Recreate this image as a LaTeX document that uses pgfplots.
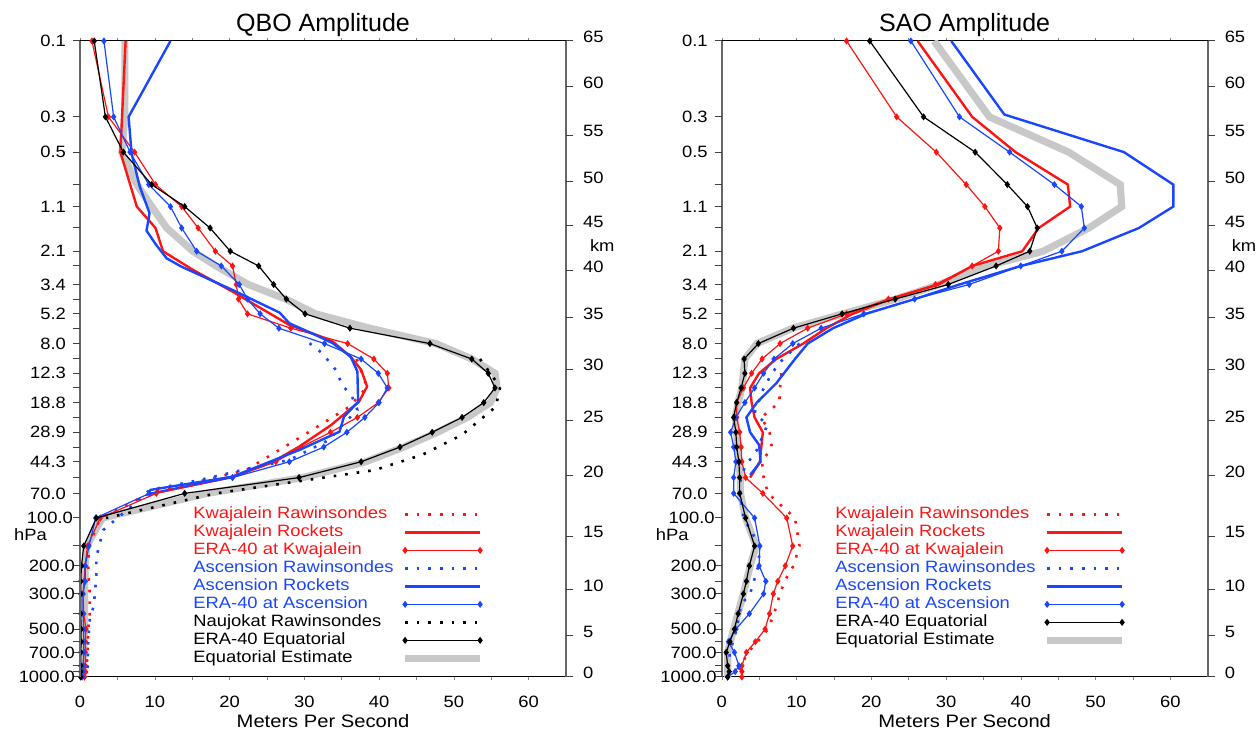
\documentclass[border=0pt]{standalone}
\usepackage{pgfplots}
\pgfplotsset{compat=1.18}
\usepackage{fontspec}
\setmainfont{Liberation Sans}
\newfontfamily\wf{Liberation Sans}[FakeStretch=1.12]
\newcommand\tf{\wf\fontsize{8.2}{9.5}\selectfont}
\newcommand\lf{\wf\fontsize{9}{10}\selectfont}
\newcommand\ttl{\fontsize{12.5}{14}\selectfont}
\definecolor{kred}{RGB}{255,20,20}
\definecolor{ablue}{RGB}{25,70,255}
\definecolor{estgray}{RGB}{200,200,200}

\tikzset{
  qraw/.style={line width=1.3pt, dash pattern=on 1.3pt off 4.5pt},
  qrock/.style={line width=1.2pt},
  qera/.style={line width=0.6pt, mark=diamond*, mark size=1.3pt, mark options={solid}},
  qest/.style={line width=3.6pt, color=estgray},
}

\begin{document}
\begin{tikzpicture}
\path[use as bounding box] (0,0) rectangle (630pt,365.5pt);

% ---------------- QBO panel ----------------
\begin{axis}[at={(40pt,27pt)}, anchor=south west,
  scale only axis, width=243pt, height=318pt,
  xmin=0, xmax=65, ymode=log, ymin=0.1, ymax=1000, y dir=reverse,
  tick align=outside, tick label style={font=\tf},
  xtick={0,10,20,30,40,50,60}, xticklabels={0,10,20,30,40,50,60},
  minor xtick={5,15,25,35,45,55}, xtick pos=both,
  major tick length=1.5pt, minor tick length=1.5pt,
  xticklabel style={yshift=-4.5pt},
  ytick=\empty, axis line style={line width=0.5pt},
  clip mode=individual,
  legend plot pos=right, legend cell align=left,
  legend image code/.code={\draw[#1] plot coordinates {(0pt,0pt) (37.5pt,0pt)};},
  legend style={at={(0.2325,0.2705)}, anchor=north west, draw=none, fill=none,
    inner sep=0pt, row sep=0pt, column sep=4pt, font=\tf,
    nodes={inner sep=0pt, text height=6.5pt, text depth=2.5pt}}]
\addplot[qest, mark=none, forget plot] coordinates {(6.0,0.1) (6.0,0.3) (5.6,0.5) (7.6,0.8) (9.6,1.1) (11.6,1.5) (15.1,2.1) (18.2,2.6) (22.5,3.4) (27.5,4.2) (31.5,5.2) (38.7,6.4) (47.6,8.0) (52.4,10) (55.5,12.3) (55.8,15.2) (54.9,18.8) (51.8,23.3) (47.8,28.9) (43.3,35.8) (38.2,44.3) (29.8,55.7) (17.0,70) (3.0,100) (0.9,150) (0.7,200) (0.6,300) (0.6,500) (0.5,700) (0.5,1000)};
\addplot[kred, qraw, mark=none] coordinates {(37.0,10) (38.4,15) (36.0,20) (30.0,30) (22.2,50) (9.3,70) (2.7,100) (1.2,150) (1.1,200) (1.2,250) (1.3,300) (1.3,400) (1.1,500) (1.0,700) (0.9,850) (0.9,1000)};
\addlegendentry{\textcolor{kred}{Kwajalein Rawinsondes}}
\addplot[kred, qrock, mark=none] coordinates {(6.1,0.1) (5.4,0.5) (7.6,1.1) (10.1,1.5) (11.1,2.1) (15.1,2.75) (20.4,3.77) (28.0,6.11) (32.0,7.16) (33.8,7.78) (36.2,9.67) (37.6,11.7) (38.4,14.9) (37.3,18.6) (36.0,20.9) (33.6,26.0) (29.3,35.6) (25.8,44.3) (20.4,55.0) (9.3,70.7)};
\addlegendentry{\textcolor{kred}{Kwajalein Rockets}}
\addplot[kred, qera] coordinates {(1.6,0.1) (3.8,0.3) (7.3,0.5) (10.1,0.8) (13.6,1.1) (15.8,1.5) (18.1,2.1) (20.4,2.6) (20.9,3.4) (21.2,4.2) (22.4,5.2) (28.2,6.4) (35.8,8.0) (39.3,10) (41.1,12.3) (41.3,15.2) (39.9,18.8) (37.1,23.3) (33.5,28.9) (29.6,35.8) (26.2,44.3) (20.4,55.7) (10.2,70) (2.7,100) (1.0,150) (0.67,200) (0.55,250) (0.4,300) (0.5,400) (0.8,500) (0.7,600) (0.7,700) (0.7,850) (0.7,925) (0.6,1000)};
\addlegendentry{\textcolor{kred}{ERA-40 at Kwajalein}}
\addplot[ablue, qraw, mark=none] coordinates {(30.7,7.96) (32.4,9.2) (34.2,11.7) (35.1,14.6) (36.4,17.3) (37.1,20.9) (35.1,26.0) (33.3,32.3) (31.1,36.4) (28.0,43.2) (22.7,48.7) (16.0,57.7) (9.3,66.7) (7.1,82.8) (3.1,119) (2.2,175) (2.2,222) (2.0,300) (1.8,361) (1.3,438) (1.1,600) (1.0,1000)};
\addlegendentry{\textcolor{ablue}{Ascension Rawinsondes}}
\addplot[ablue, qrock, mark=none] coordinates {(12.1,0.1) (6.5,0.3) (6.9,0.51) (8.0,0.825) (9.3,1.21) (8.9,1.56) (10.2,1.92) (11.6,2.33) (13.6,2.63) (20.4,3.68) (26.7,5.11) (28.0,5.96) (32.0,7.24) (33.8,7.96) (36.2,9.67) (37.1,12.0) (37.2,18.6) (35.3,23.1) (34.7,28.7) (29.3,37.4) (20.4,55) (9.3,66.7)};
\addlegendentry{\textcolor{ablue}{Ascension Rockets}}
\addplot[ablue, qera] coordinates {(3.2,0.1) (4.5,0.3) (6.7,0.5) (9.2,0.8) (12.1,1.1) (13.6,1.5) (15.6,2.1) (18.9,2.6) (21.3,3.4) (22.4,4.2) (24.1,5.2) (26.6,6.4) (32.7,8.0) (37.6,10) (39.9,12.3) (41.1,15.2) (40.0,18.8) (38.1,23.3) (35.7,28.9) (32.6,35.8) (28.0,44.3) (20.4,55.7) (9.3,70) (2.1,100) (1.2,150) (0.7,200) (0.7,250) (0.4,300) (0.4,400) (0.5,500) (0.5,600) (0.5,700) (0.4,850) (0.4,925) (0.3,1000)};
\addlegendentry{\textcolor{ablue}{ERA-40 at Ascension}}
\addplot[black, qraw, mark=none] coordinates {(53.5,10) (56.2,15) (55.6,20) (51.1,30) (45.8,40) (39.4,50) (18.2,70) (3.5,100)};
\addlegendentry{Naujokat Rawinsondes}
\addplot[black, qera] coordinates {(1.9,0.1) (3.4,0.3) (5.8,0.5) (9.6,0.8) (14.0,1.1) (17.4,1.5) (20.1,2.1) (23.9,2.6) (25.9,3.4) (27.6,4.2) (30.1,5.2) (36.1,6.4) (46.8,8.0) (52.4,10) (54.6,12.3) (55.5,15.2) (54.0,18.8) (51.1,23.3) (47.1,28.9) (42.8,35.8) (37.6,44.3) (29.3,55.7) (14.0,70) (2.2,100) (0.5,150) (0.2,200) (0.1,250) (0.1,300) (0.1,400) (0.15,500) (0.15,600) (0.1,700) (0.1,850) (0.1,925) (0.1,1000)};
\addlegendentry{ERA-40 Equatorial}
\addlegendimage{qest, mark=none}
\addlegendentry{Equatorial Estimate}
\draw[black!60, line width=0.9pt] (axis description cs:0,0) -- (axis description cs:0,1);
\draw[black!60, line width=0.9pt] (axis description cs:1,0) -- (axis description cs:1,1);
\node[font=\ttl, anchor=base] at (axis description cs:0.5,1) [yshift=4.6pt] {QBO Amplitude};
\node[font=\lf] at (axis description cs:0.5,0) [yshift=-22pt] {Meters Per Second};
\node[font=\tf] at (axis cs:0,128) [xshift=-24.75pt] {hPa};
\node[font=\tf, anchor=west] at (axis cs:65,1.94) [xshift=8.5pt] {km};
\end{axis}
% pressure ticks (left)
\begin{axis}[at={(40pt,27pt)}, anchor=south west,
  scale only axis, width=243pt, height=318pt,
  xmin=0, xmax=65, ymode=log, ymin=0.1, ymax=1000, y dir=reverse,
  tick align=outside, tick label style={font=\tf},
  axis line style={draw=none}, xtick=\empty,
  ytick={0.1,0.3,0.5,1.1,2.1,3.4,5.2,8,12.3,18.8,28.9,44.3,70,100,200,300,500,700,1000},
  yticklabels={0.1,0.3,0.5,1.1,2.1,3.4,5.2,8.0,12.3,18.8,28.9,44.3,70.0,{100.0\kern-3.5pt},{200.0\kern-4.5pt},{300.0\kern-4.5pt},{500.0\kern-4.5pt},{700.0\kern-4.5pt},{1000.0\kern-4.5pt}},
  minor ytick={0.8,1.5,2.6,4.2,6.4,10,15.2,23.3,35.8,55.7,150,250,400,600,850,925},
  ytick pos=left, major tick length=3.5pt, minor tick length=3.5pt,
  tick style={black!75, line width=0.5pt}]
\addplot[draw=none, forget plot] coordinates {(1,1)};
\end{axis}
% km ticks (right)
\begin{axis}[at={(40pt,27pt)}, anchor=south west,
  scale only axis, width=243pt, height=318pt,
  xmin=0, xmax=65, ymode=log, ymin=0.1, ymax=1000, y dir=reverse,
  tick align=outside, tick label style={font=\tf},
  axis line style={draw=none}, xtick=\empty,
  ytick={0.1,0.1947,0.3903,0.7705,1.457,2.796,5.523,11.56,24.54,54.43,129.8,283.6,552.3,1000},
  yticklabels={65,60,55,50,45,40,35,30,25,20,15,10,5,0},
  ytick pos=right, major tick length=3.5pt,
  yticklabel style={xshift=1.5pt, yshift=2pt},
  tick style={black!75, line width=0.5pt}]
\addplot[draw=none, forget plot] coordinates {(1,1)};
\end{axis}

% ---------------- SAO panel ----------------
\begin{axis}[at={(360.85pt,27pt)}, anchor=south west,
  scale only axis, width=243pt, height=318pt,
  xmin=0, xmax=65, ymode=log, ymin=0.1, ymax=1000, y dir=reverse,
  tick align=outside, tick label style={font=\tf},
  xtick={0,10,20,30,40,50,60}, xticklabels={0,10,20,30,40,50,60},
  minor xtick={5,15,25,35,45,55}, xtick pos=both,
  major tick length=1.5pt, minor tick length=1.5pt,
  xticklabel style={yshift=-4.5pt},
  ytick=\empty, axis line style={line width=0.5pt},
  clip mode=individual,
  legend plot pos=right, legend cell align=left,
  legend image code/.code={\draw[#1] plot coordinates {(0pt,0pt) (37.5pt,0pt)};},
  legend style={at={(0.2331,0.2705)}, anchor=north west, draw=none, fill=none,
    inner sep=0pt, row sep=0pt, column sep=4pt, font=\tf,
    nodes={inner sep=0pt, text height=6.5pt, text depth=2.5pt}}]
\addplot[qest, mark=none, forget plot] coordinates {(28.4,0.1) (35.8,0.3) (46.4,0.5) (53.3,0.8) (53.5,1.1) (49.1,1.5) (43.0,2.1) (35.5,2.6) (29.1,3.4) (23.3,4.2) (16.2,5.2) (9.5,6.4) (4.7,8.0) (3.1,10) (2.9,12.3) (2.7,15.2) (2.2,18.8) (1.8,23.3) (2.0,28.9) (2.1,35.8) (2.3,44.3) (2.5,55.7) (2.5,70) (3.2,100) (4.6,150) (3.8,200) (2.9,300) (1.6,500) (0.8,700) (0.8,1000)};
\addplot[kred, qraw, mark=none] coordinates {(8.0,12.3) (7.8,15.2) (7.7,18.8) (5.3,23.3) (6.4,28.9) (6.7,35.8) (5.4,44.3) (5.6,55.7) (6.2,70) (9.8,100) (10.4,150) (9.6,200) (8.4,250) (7.8,300) (7.0,400) (6.2,500) (4.8,600) (3.5,700) (2.6,850) (2.0,1000)};
\addlegendentry{\textcolor{kred}{Kwajalein Rawinsondes}}
\addplot[kred, qrock, mark=none] coordinates {(26.2,0.1) (33.5,0.3) (39.3,0.5) (46.3,0.8) (46.6,1.1) (42.4,1.5) (40.2,2.1) (33.5,2.6) (29.0,3.4) (22.5,4.2) (17.5,5.2) (14.0,6.4) (10.9,8.0) (7.3,10) (5.0,12.3) (3.8,15.2) (4.0,18.8) (4.4,23.3) (5.5,28.9) (5.3,35.8) (5.1,44.3) (3.8,55.7)};
\addlegendentry{\textcolor{kred}{Kwajalein Rockets}}
\addplot[kred, qera] coordinates {(16.7,0.1) (23.4,0.3) (28.7,0.5) (32.7,0.8) (35.2,1.1) (37.2,1.5) (37.0,2.1) (33.5,2.6) (28.6,3.4) (22.3,4.2) (16.7,5.2) (11.5,6.4) (7.8,8.0) (5.4,10) (4.0,12.3) (2.9,15.2) (2.0,18.8) (2.0,23.3) (2.4,28.9) (2.6,35.8) (2.7,44.3) (3.2,55.7) (5.5,70) (8.7,100) (9.5,150) (8.5,200) (7.5,250) (6.9,300) (6.4,400) (5.8,500) (4.5,600) (3.3,700) (2.7,850) (2.7,925) (2.7,1000)};
\addlegendentry{\textcolor{kred}{ERA-40 at Kwajalein}}
\addplot[ablue, qraw, mark=none] coordinates {(10.4,8.0) (8.2,10) (6.7,12.3) (5.5,15.7) (4.4,21.9) (6.1,26) (4.7,37.4) (3.1,47.6) (2.4,60.5) (2.5,70) (2.9,100) (5.1,150) (4.9,200) (3.8,300) (2.6,350) (2.0,500) (1.1,700) (0.9,850) (0.8,1000)};
\addlegendentry{\textcolor{ablue}{Ascension Rawinsondes}}
\addplot[ablue, qrock, mark=none] coordinates {(30.7,0.1) (37.8,0.29) (53.8,0.5) (60.4,0.8) (60.4,1.1) (55.8,1.5) (48.2,2.1) (40.0,2.6) (31.8,3.4) (25.8,4.2) (19.3,5.2) (14.9,6.4) (11.5,8.0) (9.8,10) (7.3,14.2) (4.7,18.8) (3.3,23.3) (3.8,28.9) (5.0,34.7) (5.2,44.3) (3.8,53.6)};
\addlegendentry{\textcolor{ablue}{Ascension Rockets}}
\addplot[ablue, qera] coordinates {(25.3,0.1) (31.8,0.3) (38.5,0.5) (44.5,0.8) (48.1,1.1) (48.5,1.5) (45.5,2.1) (40.0,2.6) (33.1,3.4) (25.8,4.2) (19.0,5.2) (13.3,6.4) (9.5,8.0) (7.0,10) (5.6,12.3) (4.4,15.2) (3.1,18.8) (1.9,23.3) (1.2,28.9) (1.6,35.8) (1.9,44.3) (1.6,55.7) (1.6,70) (4.4,100) (5.1,150) (5.0,200) (5.9,250) (5.6,300) (3.7,400) (1.9,500) (0.9,600) (1.7,700) (2.3,850) (1.8,925) (0.8,1000)};
\addlegendentry{\textcolor{ablue}{ERA-40 at Ascension}}
\addplot[black, qera] coordinates {(19.8,0.1) (27.0,0.3) (33.9,0.5) (38.2,0.8) (40.9,1.1) (42.2,1.5) (41.2,2.1) (36.7,2.6) (30.3,3.4) (23.2,4.2) (16.1,5.2) (9.6,6.4) (4.9,8.0) (3.0,10) (3.1,12.3) (2.6,15.2) (2.0,18.8) (1.6,23.3) (1.9,28.9) (2.0,35.8) (2.3,44.3) (2.4,55.7) (2.4,70) (3.2,100) (4.4,150) (3.7,200) (3.3,250) (2.9,300) (2.2,400) (1.7,500) (1.1,600) (0.6,700) (0.8,850) (1.0,925) (0.8,1000)};
\addlegendentry{ERA-40 Equatorial}
\addlegendimage{qest, mark=none}
\addlegendentry{Equatorial Estimate}
\draw[black!60, line width=0.9pt] (axis description cs:0,0) -- (axis description cs:0,1);
\draw[black!60, line width=0.9pt] (axis description cs:1,0) -- (axis description cs:1,1);
\node[font=\ttl, anchor=base] at (axis description cs:0.5,1) [yshift=4.6pt] {SAO Amplitude};
\node[font=\lf] at (axis description cs:0.5,0) [yshift=-22pt] {Meters Per Second};
\node[font=\tf] at (axis cs:0,128) [xshift=-24.75pt] {hPa};
\node[font=\tf, anchor=west] at (axis cs:65,1.94) [xshift=8.5pt] {km};
\end{axis}
\begin{axis}[at={(360.85pt,27pt)}, anchor=south west,
  scale only axis, width=243pt, height=318pt,
  xmin=0, xmax=65, ymode=log, ymin=0.1, ymax=1000, y dir=reverse,
  tick align=outside, tick label style={font=\tf},
  axis line style={draw=none}, xtick=\empty,
  ytick={0.1,0.3,0.5,1.1,2.1,3.4,5.2,8,12.3,18.8,28.9,44.3,70,100,200,300,500,700,1000},
  yticklabels={0.1,0.3,0.5,1.1,2.1,3.4,5.2,8.0,12.3,18.8,28.9,44.3,70.0,{100.0\kern-3.5pt},{200.0\kern-4.5pt},{300.0\kern-4.5pt},{500.0\kern-4.5pt},{700.0\kern-4.5pt},{1000.0\kern-4.5pt}},
  minor ytick={0.8,1.5,2.6,4.2,6.4,10,15.2,23.3,35.8,55.7,150,250,400,600,850,925},
  ytick pos=left, major tick length=3.5pt, minor tick length=3.5pt,
  tick style={black!75, line width=0.5pt}]
\addplot[draw=none, forget plot] coordinates {(1,1)};
\end{axis}
\begin{axis}[at={(360.85pt,27pt)}, anchor=south west,
  scale only axis, width=243pt, height=318pt,
  xmin=0, xmax=65, ymode=log, ymin=0.1, ymax=1000, y dir=reverse,
  tick align=outside, tick label style={font=\tf},
  axis line style={draw=none}, xtick=\empty,
  ytick={0.1,0.1947,0.3903,0.7705,1.457,2.796,5.523,11.56,24.54,54.43,129.8,283.6,552.3,1000},
  yticklabels={65,60,55,50,45,40,35,30,25,20,15,10,5,0},
  ytick pos=right, major tick length=3.5pt,
  yticklabel style={xshift=1.5pt, yshift=2pt},
  tick style={black!75, line width=0.5pt}]
\addplot[draw=none, forget plot] coordinates {(1,1)};
\end{axis}
\end{tikzpicture}
\end{document}
